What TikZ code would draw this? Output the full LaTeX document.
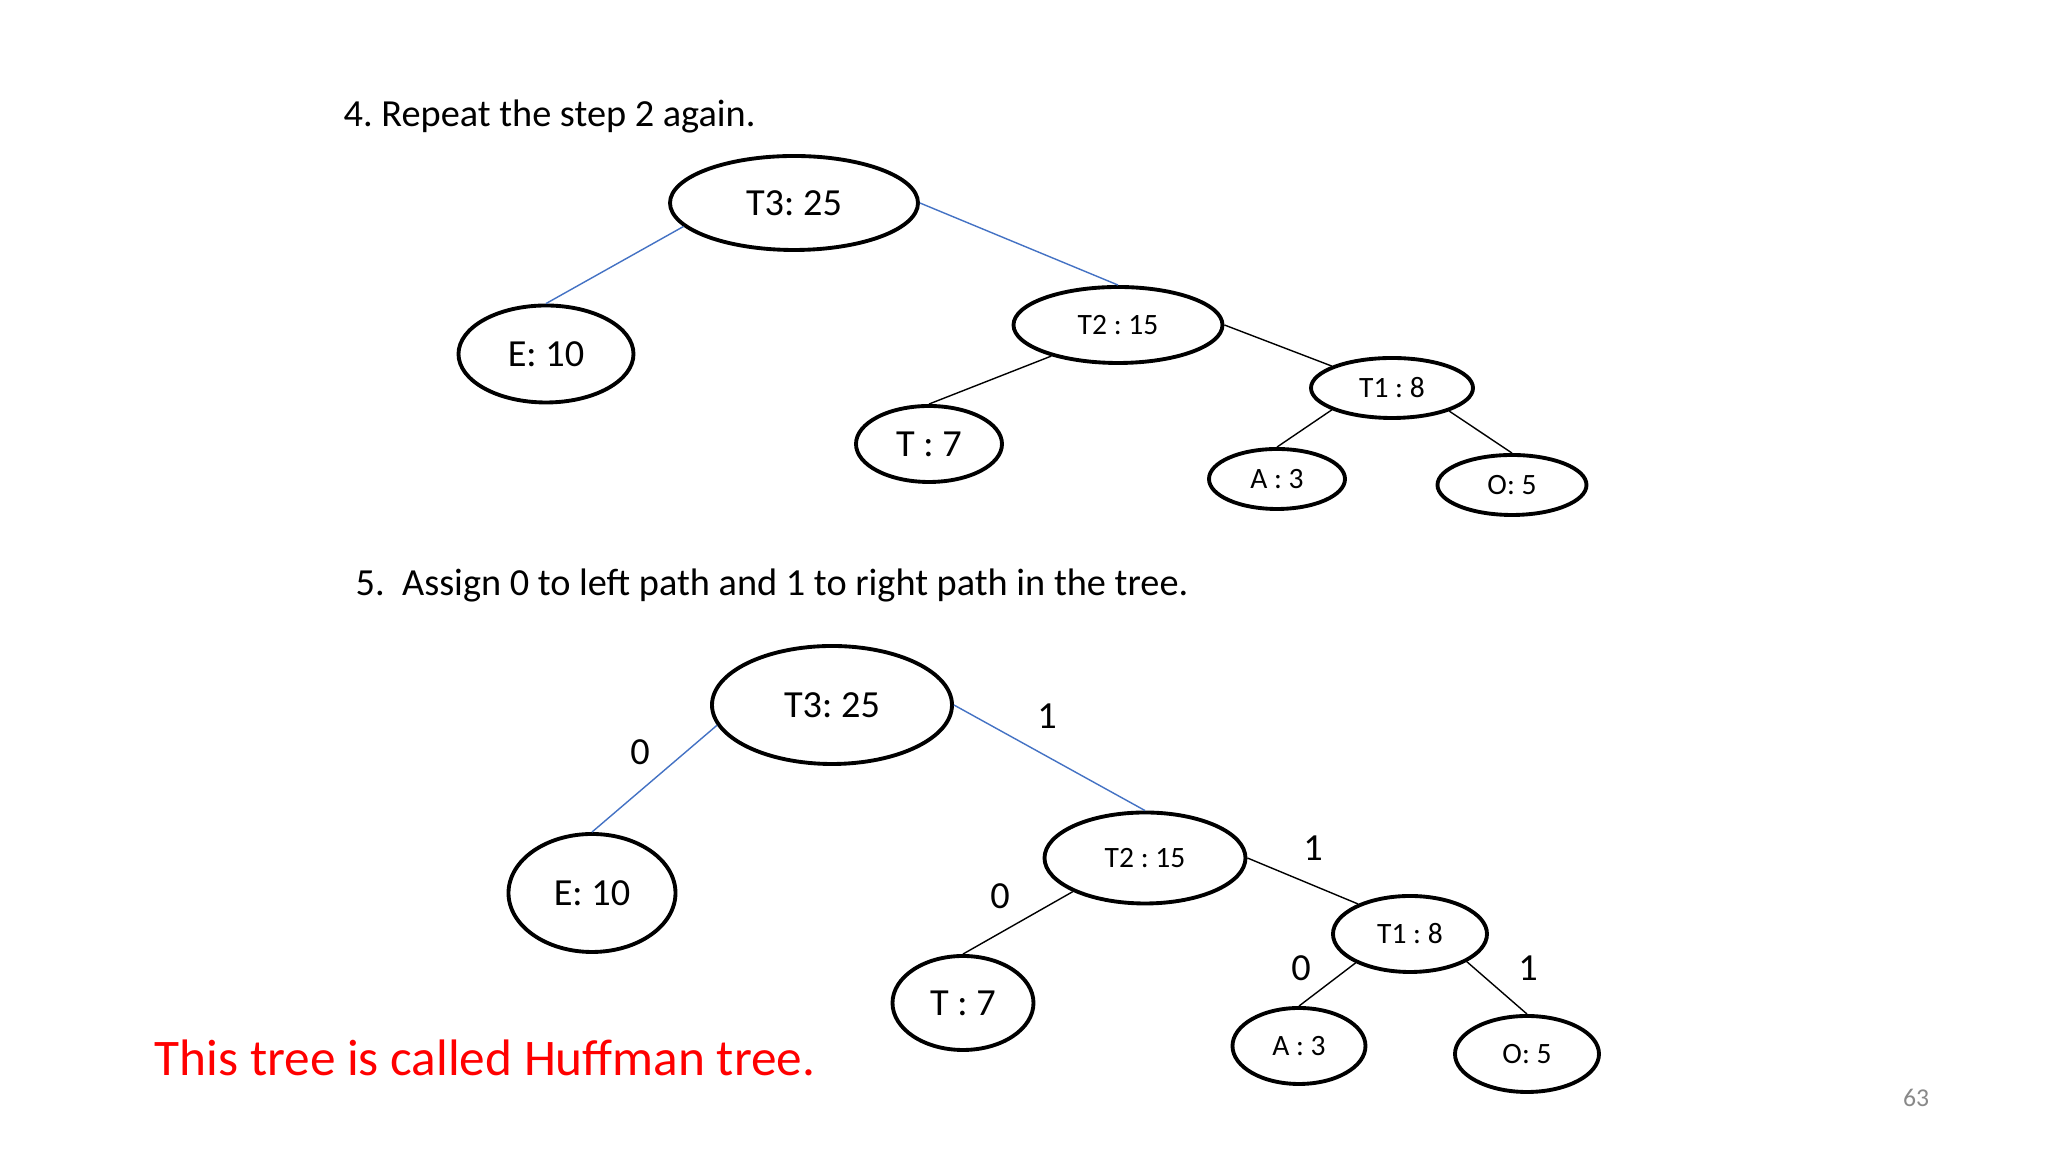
\documentclass[tikz,border=0pt]{standalone}
\usepackage{fontspec}
\setmainfont{Carlito}
\usetikzlibrary{shapes.geometric}
\definecolor{edgeblue}{RGB}{68,114,196}
\definecolor{pagegray}{RGB}{137,137,137}
\frenchspacing

\begin{document}
\begin{tikzpicture}[
        bigleaf/.style={ellipse, draw, line width=1.1pt, inner sep=0pt, font=\fontsize{10.9}{13}\selectfont},
        smallleaf/.style={ellipse, draw, line width=1.1pt, inner sep=0pt, font=\fontsize{8.4}{10}\selectfont},
        heading/.style={anchor=base west, inner sep=0pt, font=\fontsize{10.9}{13}\selectfont},
        bit/.style={inner sep=0pt, font=\fontsize{10.9}{13}\selectfont},
        rootedge/.style={edgeblue, line width=0.4pt},
        subedge/.style={black, line width=0.4pt}]
            \useasboundingbox[fill=white] (0,0) rectangle (20.48,11.52);

            \node[heading] (step4) at (3.43,10.25) {4. Repeat the step 2 again.};

            \node[bigleaf, minimum width=2.48cm, minimum height=0.94cm] (T3a) at (7.94,9.49) {T3: 25};
            \node[bigleaf, minimum width=1.75cm, minimum height=0.97cm] (Ea) at (5.46,7.98) {E: 10};
            \node[smallleaf, minimum width=2.09cm, minimum height=0.76cm] (T2a) at (11.18,8.27) {T2 : 15};
            \node[bigleaf, minimum width=1.46cm, minimum height=0.76cm] (Ta) at (9.29,7.08) {T : 7};
            \node[smallleaf, minimum width=1.62cm, minimum height=0.60cm] (T1a) at (13.92,7.64) {T1 : 8};
            \node[smallleaf, minimum width=1.36cm, minimum height=0.60cm] (Aa) at (12.77,6.73) {A : 3};
            \node[smallleaf, minimum width=1.49cm, minimum height=0.60cm] (Oa) at (15.12,6.67) {O: 5};

            \draw[rootedge] (T3a.192) -- (Ea.north);
            \draw[rootedge] (T3a.east) -- (T2a.north);
            \draw[subedge] (T2a.205) -- (Ta.north);
            \draw[subedge] (T2a.east) -- (T1a.160);
            \draw[subedge] (T1a.200) -- (Aa.north);
            \draw[subedge] (T1a.338) -- (Oa.north);

            \node[heading] (step5) at (3.55,5.56) {5.~~Assign 0 to left path and 1 to right path in the tree.};

            \node[bigleaf, minimum width=2.40cm, minimum height=1.18cm] (T3b) at (8.32,4.47) {T3: 25};
            \node[bigleaf, minimum width=1.67cm, minimum height=1.18cm] (Eb) at (5.92,2.59) {E: 10};
            \node[smallleaf, minimum width=2.01cm, minimum height=0.91cm] (T2b) at (11.45,2.94) {T2 : 15};
            \node[bigleaf, minimum width=1.41cm, minimum height=0.94cm] (Tb) at (9.63,1.49) {T : 7};
            \node[smallleaf, minimum width=1.54cm, minimum height=0.76cm] (T1b) at (14.10,2.18) {T1 : 8};
            \node[smallleaf, minimum width=1.33cm, minimum height=0.76cm] (Ab) at (12.99,1.06) {A : 3};
            \node[smallleaf, minimum width=1.44cm, minimum height=0.76cm] (Ob) at (15.27,0.98) {O: 5};

            \draw[rootedge] (T3b.190) -- (Eb.north);
            \draw[rootedge] (T3b.east) -- (T2b.north);
            \draw[subedge] (T2b.205) -- (Tb.north);
            \draw[subedge] (T2b.east) -- (T1b.150);
            \draw[subedge] (T1b.208) -- (Ab.north);
            \draw[subedge] (T1b.334) -- (Ob.north);

            \node[bit] (bitE) at (6.40,4.00) {0};
            \node[bit] (bitT2) at (10.47,4.36) {1};
            \node[bit] (bitT) at (10.00,2.56) {0};
            \node[bit] (bitT1) at (13.13,3.04) {1};
            \node[bit] (bitA) at (13.01,1.84) {0};
            \node[bit] (bitO) at (15.28,1.84) {1};

            \node[anchor=base west, inner sep=0pt, red, font=\fontsize{14.6}{17}\selectfont] (note) at (1.54,0.76) {This tree is called Huffman tree.};
            \node[pagegray, font=\fontsize{7.3}{9}\selectfont] (pageno) at (19.16,0.54) {63};
        \end{tikzpicture}
\end{document}
